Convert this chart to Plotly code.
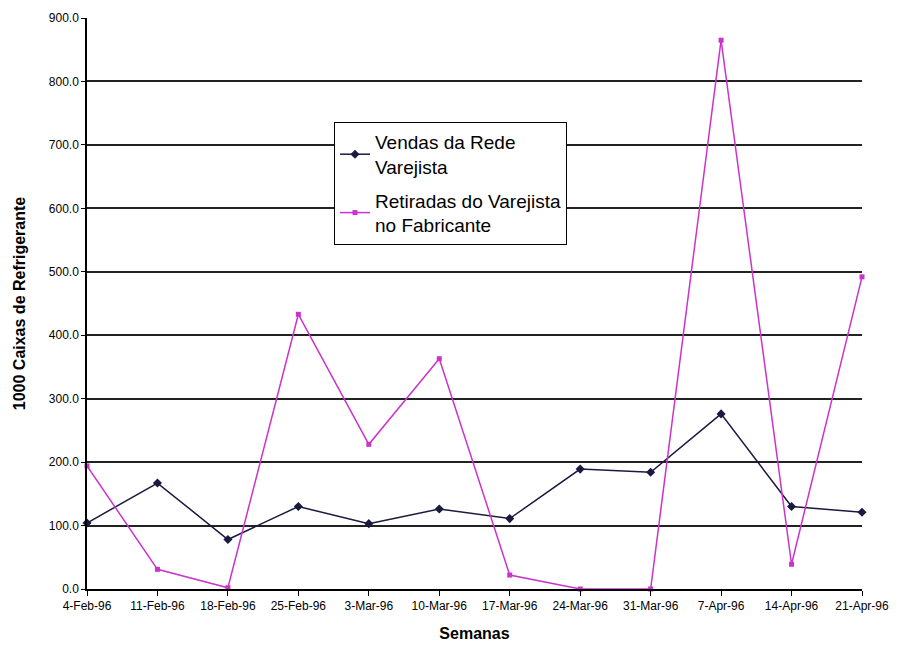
import plotly.graph_objects as go

semanas = ["4-Feb-96", "11-Feb-96", "18-Feb-96", "25-Feb-96", "3-Mar-96", "10-Mar-96",
           "17-Mar-96", "24-Mar-96", "31-Mar-96", "7-Apr-96", "14-Apr-96", "21-Apr-96"]
vendas = [104, 167, 78, 130, 103, 126, 111, 189, 184, 276, 130, 121]
retiradas = [194, 31, 2, 433, 228, 363, 22, 0, 0, 865, 39, 492]
y_ticks = [0, 100, 200, 300, 400, 500, 600, 700, 800, 900]
y_labels = ["0.0", "100.0", "200.0", "300.0", "400.0", "500.0", "600.0", "700.0", "800.0", "900.0"]

xs = list(range(len(semanas)))
font_fam = "Liberation Sans Narrow, Arial Narrow, Liberation Sans, Arial"

fig = go.Figure()
fig.add_trace(go.Scatter(
    x=xs, y=vendas, mode="lines+markers",
    name="Vendas da Rede<br>Varejista", legendgroup="a",
    line=dict(color="#1a1a40", width=1.5),
    marker=dict(symbol="diamond", size=7, color="#1a1a40"),
    cliponaxis=False,
))
fig.add_trace(go.Scatter(
    x=xs, y=retiradas, mode="lines+markers",
    name="Retiradas do Varejista<br>no Fabricante", legendgroup="b",
    line=dict(color="#CC33CC", width=1.5),
    marker=dict(symbol="square", size=5, color="#CC33CC"),
    cliponaxis=False,
))

fig.update_layout(
    width=888, height=656,
    margin=dict(l=79, r=34, t=10, b=75),
    paper_bgcolor="white", plot_bgcolor="white",
    font=dict(family=font_fam, color="black", size=12),
    legend=dict(
        x=(334 - 87) / 775, y=(589 - 122) / 571, xanchor="left", yanchor="top",
        bordercolor="black", borderwidth=1, bgcolor="white",
        font=dict(family=font_fam, size=19),
        tracegroupgap=6, itemwidth=30,
    ),
    xaxis=dict(
        range=[0, 11], tickmode="array", tickvals=xs, ticktext=semanas,
        showgrid=False, showline=True, linecolor="black", linewidth=1.5,
        ticks="outside", ticklen=5, tickcolor="black", zeroline=False,
        tickfont=dict(family=font_fam, size=12), automargin=False,
        title=dict(text="<b>Semanas</b>", font=dict(family="Liberation Sans, Arial", size=16), standoff=16),
    ),
    yaxis=dict(
        range=[0, 900], tickmode="array", tickvals=y_ticks, ticktext=y_labels,
        showgrid=True, gridcolor="#222222", gridwidth=1.5,
        showline=True, linecolor="black", linewidth=1.5,
        ticks="outside", ticklen=4, tickcolor="black", zeroline=False,
        tickfont=dict(family=font_fam, size=12), automargin=False,
        title=dict(text="<b>1000 Caixas de Refrigerante</b>", font=dict(family="Liberation Sans, Arial", size=16), standoff=19),
    ),
)

fig.write_html("out.html")
